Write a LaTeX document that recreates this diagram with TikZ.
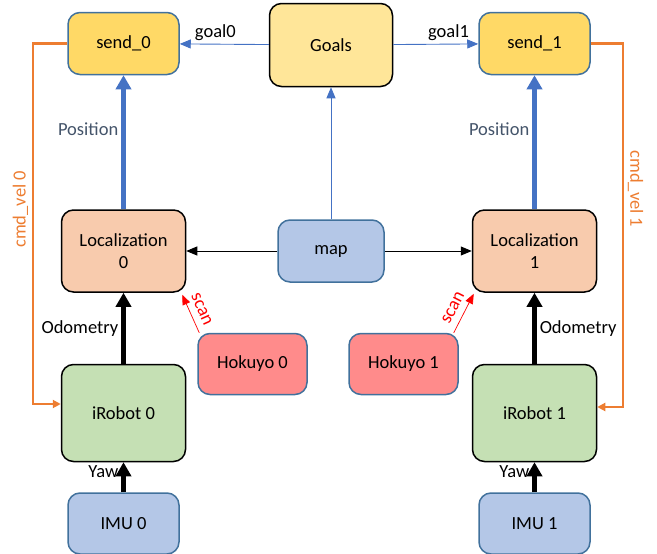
\documentclass[tikz,border=0pt]{standalone}
\usepackage{fontspec}
\setmainfont{Carlito}
\usetikzlibrary{positioning,arrows.meta}
\usepackage{xcolor}
\definecolor{sendfill}{HTML}{FFD966}
\definecolor{goalfill}{HTML}{FFE699}
\definecolor{locfill}{HTML}{F8CBAD}
\definecolor{bluefill}{HTML}{B4C7E7}
\definecolor{hokfill}{HTML}{FF8B8B}
\definecolor{robfill}{HTML}{C5E0B4}
\definecolor{edgeblue}{HTML}{41719C}
\definecolor{arrowblue}{HTML}{4472C4}
\definecolor{poslabel}{HTML}{44546A}
\definecolor{cmdorange}{HTML}{ED7D31}

\begin{document}
\begin{tikzpicture}[x=1pt,y=-1pt,font=\fontsize{18.5}{22}\selectfont,
  box/.style={rounded corners=12pt,line width=1.5pt,align=center,inner sep=2pt},
  sendbox/.style={box,fill=sendfill,draw=edgeblue,minimum width=111pt,minimum height=62pt},
  goalbox/.style={box,fill=goalfill,draw=black,minimum width=123pt,minimum height=83pt},
  locbox/.style={box,fill=locfill,draw=black,minimum width=124pt,minimum height=82pt},
  mapbox/.style={box,fill=bluefill,draw=edgeblue,minimum width=106pt,minimum height=62pt},
  hokbox/.style={box,fill=hokfill,draw=edgeblue,minimum width=109pt,minimum height=61pt},
  robbox/.style={box,fill=robfill,draw=black,minimum width=124pt,minimum height=97pt},
  imubox/.style={box,fill=bluefill,draw=edgeblue,minimum width=111pt,minimum height=61pt},
  thinblue/.style={->,draw=arrowblue,line width=0.9pt,>={Triangle[length=11pt,width=9pt]}},
  thinblack/.style={->,draw=black,line width=0.9pt,>={Triangle[length=11pt,width=9pt]}},
  posarrow/.style={->,draw=arrowblue,line width=4.5pt,>={Triangle[length=14pt,width=15pt]}},
  odoarrow/.style={->,draw=black,line width=4.5pt,>={Triangle[length=14pt,width=15pt]}},
  scanarrow/.style={->,draw=red,line width=0.7pt,>={Triangle[length=10pt,width=8pt]}},
  cmdarrow/.style={->,draw=cmdorange,line width=2.2pt,>={Triangle[length=8pt,width=8pt]}},
  lbl/.style={inner sep=3pt}]
\useasboundingbox (0,0) rectangle (657,554);

% middle column
\node[mapbox] (map) at (331,251) {map};
\node[goalbox] (goals) [above=132pt of map] {Goals};

% robot 0
\node[locbox] (loc0) [left=91pt of map] {Localization\\0};
\node[sendbox] (send0) [above=134pt of loc0] {send\_0};
\node[robbox] (irobot0) [below=71pt of loc0] {iRobot 0};
\node[imubox] (imu0) [below=30pt of irobot0] {IMU 0};
\node[hokbox] (hok0) [below right=40pt and 11pt of loc0] {Hokuyo 0};

% robot 1
\node[locbox] (loc1) [right=87pt of map] {Localization\\1};
\node[sendbox] (send1) [above=134pt of loc1] {send\_1};
\node[robbox] (irobot1) [below=71pt of loc1] {iRobot 1};
\node[imubox] (imu1) [below=30pt of irobot1] {IMU 1};
\node[hokbox] (hok1) [below left=40pt and 13pt of loc1] {Hokuyo 1};

% goals and map
\draw[thinblue] (goals) -- (send0) node[lbl,pos=0.6,above]{goal0};
\draw[thinblue] (goals) -- (send1) node[lbl,pos=0.65,above]{goal1};
\draw[thinblue] (map) -- (goals);
\draw[thinblack] (map) -- (loc0);
\draw[thinblack] (map) -- (loc1);

% position, odometry, yaw
\draw[posarrow] (loc0) -- (send0) node[lbl,pos=0.6,left,text=poslabel]{Position};
\draw[posarrow] (loc1) -- (send1) node[lbl,pos=0.6,left,text=poslabel]{Position};
\draw[odoarrow] (irobot0) -- (loc0) node[lbl,midway,left]{Odometry};
\draw[odoarrow] (irobot1) -- (loc1) node[lbl,midway,right]{Odometry};
\draw[odoarrow] (imu0) -- (irobot0) node[lbl,pos=0.7,left]{Yaw};
\draw[odoarrow] (imu1) -- (irobot1) node[lbl,pos=0.7,left]{Yaw};

% laser scans
\draw[scanarrow] ([xshift=2pt]hok0.north west) -- ([xshift=-4pt,yshift=-2pt]loc0.south east)
  node[midway,rotate=-66,anchor=south,inner sep=7pt,text=red]{scan};
\draw[scanarrow] ([xshift=-5pt]hok1.north east) -- ([xshift=2pt,yshift=-1pt]loc1.south west)
  node[midway,rotate=63,anchor=south,inner sep=7pt,text=red]{scan};

% velocity commands
\draw[cmdarrow] (send0.west) -- ++(-34pt,0) |- ([yshift=9pt]irobot0.west)
  node[pos=0.23,rotate=90,anchor=south,inner sep=4pt,text=cmdorange]{cmd\_vel 0};
\draw[cmdarrow] (send1.east) -- ++(32pt,0) |- ([yshift=6pt]irobot1.east)
  node[pos=0.2,rotate=-90,anchor=south,inner sep=4pt,text=cmdorange]{cmd\_vel 1};
\end{tikzpicture}
\end{document}
